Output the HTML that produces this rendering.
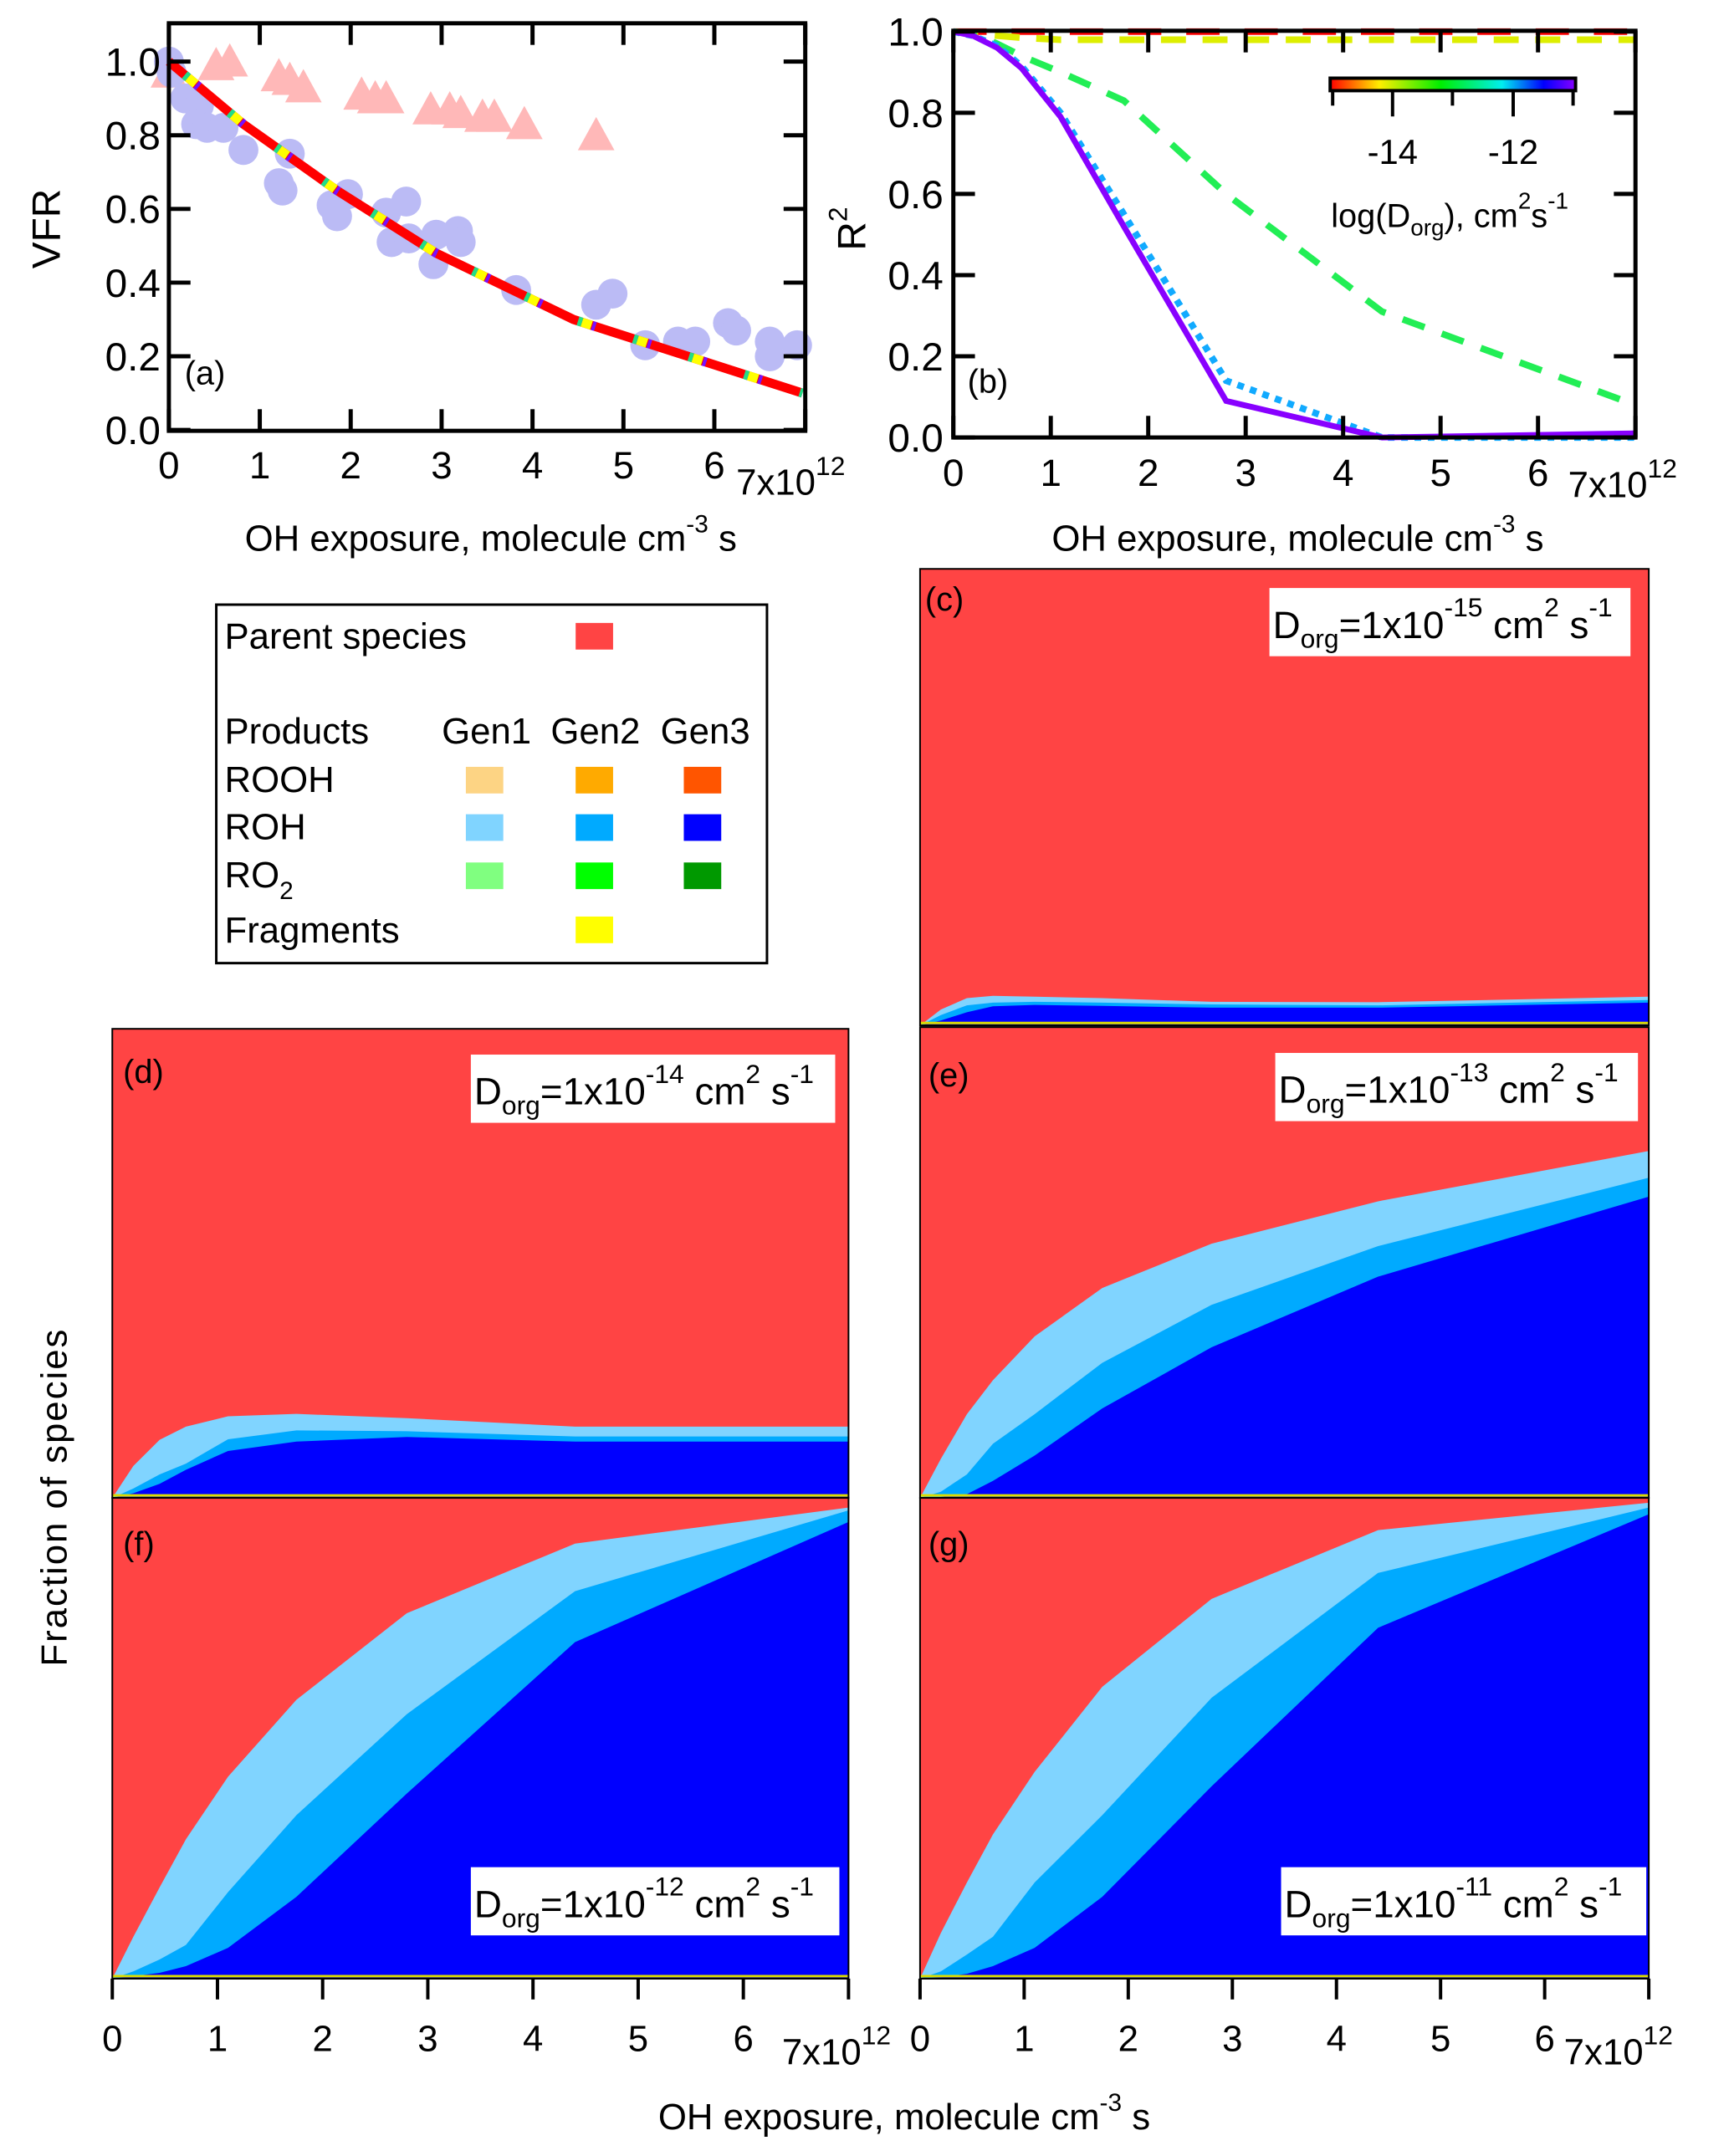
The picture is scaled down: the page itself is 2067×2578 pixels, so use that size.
<!DOCTYPE html>
<html><head><meta charset="utf-8"><style>
html,body{margin:0;padding:0;background:#fff;}
svg{display:block;font-family:"Liberation Sans",sans-serif;}
</style></head><body>
<svg id="fig" width="2067" height="2578" viewBox="0 0 2067 2578" xmlns="http://www.w3.org/2000/svg">
<g id="layer" transform="scale(0.9945)"></g>
</svg>
<script>
// ---------- Panel (a) data ----------
const aCircX=[0,0.03,0.18,0.33,0.3,0.42,0.6,0.82,1.33,1.21,1.25,1.79,1.97,1.85,2.39,2.61,2.45,2.64,2.91,2.94,3.18,3.21,3.82,4.7,4.88,5.24,5.6,5.79,6.15,6.24,6.61,6.61,6.91];
const aCircY=[1.0,0.97,0.9,0.88,0.83,0.82,0.82,0.76,0.75,0.67,0.65,0.61,0.64,0.58,0.59,0.62,0.51,0.52,0.45,0.53,0.54,0.51,0.38,0.34,0.37,0.23,0.24,0.24,0.29,0.27,0.24,0.2,0.23];
const aTriX=[0,0.52,0.67,1.21,1.33,1.48,2.12,2.27,2.39,2.88,3.09,3.21,3.45,3.58,3.91,4.7];
const aTriY=[0.97,0.99,1.0,0.96,0.95,0.93,0.91,0.9,0.9,0.87,0.87,0.86,0.85,0.85,0.83,0.8];
const aModelX=[0,0.82,1.85,2.94,4.45,6.97];
const aModelY=[1.0,0.83,0.65,0.48,0.3,0.1];
// ---------- Panel (b) data ----------
const bX=[0,0.2,0.45,0.7,1.1,1.75,2.8,4.4,7];
const bRed=[1,1,1,1,1,1,1,1,1];
const bYellow=[1,0.995,0.99,0.985,0.98,0.98,0.98,0.98,0.98];
const bGreen=[1,0.995,0.97,0.94,0.9,0.83,0.6,0.31,0.08];
const bBlue=[1,0.99,0.965,0.915,0.80,0.55,0.14,0.0,0.0];
const bPurple=[1,0.99,0.96,0.91,0.79,0.52,0.09,0.0,0.01];
// ---------- Stacked panels (c-g) data ----------
const sX=[0,0.2,0.45,0.7,1.1,1.75,2.8,4.4,7];
const cGen3=[0,0.011,0.029,0.042,0.045,0.043,0.039,0.039,0.05];
const cGen2=[0,0.012,0.015,0.008,0.007,0.007,0.007,0.005,0.006];
const cGen1=[0,0.012,0.016,0.015,0.011,0.01,0.006,0.007,0.007];
const dGen3=[0,0.01,0.03,0.06,0.1,0.12,0.13,0.12,0.12];
const dGen2=[0,0.01,0.02,0.013,0.025,0.024,0.012,0.011,0.011];
const dGen1=[0,0.048,0.074,0.079,0.049,0.035,0.028,0.021,0.021];
const eGen3=[0,0.002,0.008,0.036,0.09,0.19,0.32,0.47,0.64];
const eGen2=[0,0.011,0.042,0.079,0.088,0.097,0.09,0.065,0.04];
const eGen1=[0,0.07,0.128,0.135,0.165,0.159,0.13,0.095,0.057];
const fGen3=[0,0.005,0.012,0.026,0.064,0.17,0.385,0.70,0.95];
const fGen2=[0,0.01,0.028,0.044,0.116,0.17,0.165,0.106,0.024];
const fGen1=[0,0.072,0.15,0.22,0.24,0.24,0.21,0.099,0.006];
const gGen3=[0,0.003,0.01,0.026,0.064,0.17,0.40,0.73,0.966];
const gGen2=[0,0.012,0.04,0.061,0.136,0.17,0.184,0.114,0.014];
const gGen1=[0,0.08,0.15,0.213,0.23,0.267,0.206,0.089,0.01];
const xTicks=[0,1,2,3,4,5,6];
const yTicksA=[0,0.2,0.4,0.6,0.8,1.0];
const yTickLabels=["0.0","0.2","0.4","0.6","0.8","1.0"];

const NS="http://www.w3.org/2000/svg";
const root=document.getElementById('layer');
function mk(tag,attrs,parent){const e=document.createElementNS(NS,tag);for(const k in attrs)e.setAttribute(k,attrs[k]);(parent||root).appendChild(e);return e;}
function txt(x,y,s,size,anchor,parent){const t=mk('text',{x:x,y:y,'font-size':size,'text-anchor':anchor||'start',fill:'#000'},parent);t.textContent=s;return t;}
function scale(d0,d1,p0,p1){return v=>p0+(v-d0)/(d1-d0)*(p1-p0);}
function pathOf(xs,ys,sx,sy){return xs.map((v,i)=>(i?'L':'M')+sx(v).toFixed(1)+','+sy(ys[i]).toFixed(1)).join(' ');}

function axisTitle(cx,y,parent){
  const t=mk('text',{x:cx,y:y,'font-size':44,'text-anchor':'middle'},parent);
  
  
  t.innerHTML='OH exposure, molecule cm<tspan dy="-22" font-size="30">-3</tspan><tspan dy="22"> s</tspan>';
}
function expLabel(x,y,parent){
  const t=mk('text',{x:x,y:y,'font-size':44},parent);
  
  
  t.innerHTML='7x10<tspan dy="-24" font-size="32">12</tspan>';
}

// ===== Panel (a) =====
(function(){
  const g=mk('g',{});
  
  
  const L=203,R=968,T=28,B=518;
  const sx=scale(0,7,L,R), sy=scale(0,1,517,74);
  aTriX.forEach((v,i)=>{const cx=sx(v),cy=sy(aTriY[i]);
    const p=mk('polygon',{points:`${cx-22},${cy+18} ${cx},${cy-22} ${cx+22},${cy+18}`,fill:'#FFB8B8'},g);
    
    });
  aCircX.forEach((v,i)=>{const c=mk('circle',{cx:sx(v),cy:sy(aCircY[i]),r:18,fill:'#BBBBF5'},g);
    
    });
  const d=pathOf(aModelX,aModelY,sx,sy);
  const m1=mk('path',{d:d,fill:'none',stroke:'#FF0000','stroke-width':11},g);
  
  
  mk('path',{d:d,fill:'none',stroke:'#FFFF00','stroke-width':11,'stroke-dasharray':'12 58','stroke-dashoffset':'-30'},g);
  mk('path',{d:d,fill:'none',stroke:'#22DD88','stroke-width':11,'stroke-dasharray':'5 65','stroke-dashoffset':'-25'},g);
  mk('path',{d:d,fill:'none',stroke:'#7711FF','stroke-width':11,'stroke-dasharray':'4 66','stroke-dashoffset':'-43'},g);
  const fr=mk('rect',{x:L,y:T,width:R-L,height:B-T,fill:'none',stroke:'#000','stroke-width':5},g);
  
  
  xTicks.concat([7]).forEach(v=>{const x=sx(v);mk('line',{x1:x,x2:x,y1:B,y2:B-26,stroke:'#000','stroke-width':5},g);mk('line',{x1:x,x2:x,y1:T,y2:T+26,stroke:'#000','stroke-width':5},g);});
  xTicks.forEach(v=>{const t=txt(sx(v),575,String(v),46,'middle',g);
    
    });
  yTicksA.forEach((v,i)=>{const y=sy(v);mk('line',{x1:L,x2:L+26,y1:y,y2:y,stroke:'#000','stroke-width':5},g);mk('line',{x1:R,x2:R-26,y1:y,y2:y,stroke:'#000','stroke-width':5},g);
    const t=txt(L-10,y+17,yTickLabels[i],48,'end',g);
    
    });
  expLabel(885,595,g);
  axisTitle(590,662,g);
  const yl=txt(0,0,'VFR',48,'middle',g);
  yl.setAttribute('transform','translate(72,275) rotate(-90)');
  
  
  const pl=txt(222,462,'(a)',40,'start',g);
  
  
})();

// ===== Panel (b) =====
(function(){
  const g=mk('g',{});
  
  
  const L=1146,R=1966,T=37,B=526;
  const sx=scale(0,7,L,R), sy=scale(0,1,B,T+1);
  const series=[[bRed,'#FF0000','40 30'],[bYellow,'#DDEE00','30 20'],[bGreen,'#22EE55','28 22'],[bBlue,'#11AAFF','8 8'],[bPurple,'#8800FF','']];
  const names=['r2-line-1e-15','r2-line-1e-14','r2-line-1e-13','r2-line-1e-12','r2-line-1e-11'];
  series.forEach((s,i)=>{const p=mk('path',{d:pathOf(bX,s[0],sx,sy),fill:'none',stroke:s[1],'stroke-width':i===4?7:8,'stroke-dasharray':s[2]||'none'},g);
    
    });
  const fr=mk('rect',{x:L,y:T,width:R-L,height:B-T,fill:'none',stroke:'#000','stroke-width':5},g);
  
  
  xTicks.concat([7]).forEach(v=>{const x=sx(v);mk('line',{x1:x,x2:x,y1:B,y2:B-26,stroke:'#000','stroke-width':5},g);mk('line',{x1:x,x2:x,y1:T,y2:T+26,stroke:'#000','stroke-width':5},g);});
  xTicks.forEach(v=>{const t=txt(sx(v),584,String(v),46,'middle',g);
    
    });
  yTicksA.forEach((v,i)=>{const y=sy(v);mk('line',{x1:L,x2:L+26,y1:y,y2:y,stroke:'#000','stroke-width':5},g);mk('line',{x1:R,x2:R-26,y1:y,y2:y,stroke:'#000','stroke-width':5},g);
    const t=txt(L-12,y+17,yTickLabels[i],48,'end',g);
    
    });
  expLabel(1885,598,g);
  axisTitle(1560,662,g);
  const yl=mk('text',{'font-size':48,'text-anchor':'middle',transform:'translate(1040,275) rotate(-90)'},g);
  yl.innerHTML='R<tspan dy="-22" font-size="32">2</tspan>';
  
  
  const pl=txt(1163,472,'(b)',40,'start',g);
  
  
  const defs=mk('defs',{},g);
  const lg=mk('linearGradient',{id:'cb',x1:0,x2:1,y1:0,y2:0},defs);
  [['0','#FF0000'],['0.2','#FFEE00'],['0.45','#00EE00'],['0.7','#00EEEE'],['0.87','#0000FF'],['1','#8800FF']].forEach(s=>mk('stop',{offset:s[0],'stop-color':s[1]},lg));
  const cb=mk('rect',{x:1599,y:94,width:295,height:15,fill:'url(#cb)',stroke:'#000','stroke-width':4},g);
  
  
  [1602,1674,1746,1819,1891].forEach((x,i)=>mk('line',{x1:x,x2:x,y1:110,y2:i%2?140:127,stroke:'#000','stroke-width':4},g));
  [['-14',1674],['-12',1819]].forEach(a=>{const t=txt(a[1],197,a[0],42,'middle',g);
    
    });
  const cl=mk('text',{x:1600,y:273,'font-size':40},g);
  cl.innerHTML='log(D<tspan dy="10" font-size="28">org</tspan><tspan dy="-10">), cm</tspan><tspan dy="-22" font-size="28">2</tspan><tspan dy="22">s</tspan><tspan dy="-22" font-size="28">-1</tspan>';
  
  
})();

// ===== Legend =====
(function(){
  const g=mk('g',{});
  
  
  mk('rect',{x:260,y:727,width:662,height:431,fill:'#fff',stroke:'#000','stroke-width':3},g);
  const rows=[['Parent  species',780],['Products',894],['ROOH',952],['ROH',1009],['RO',1067],['Fragments',1133]];
  rows.forEach(r=>{const t=txt(270,r[1],r[0],44,'start',g);
    
    
    if(r[0]==='RO'){const s=mk('tspan',{dy:14,'font-size':30},t);s.textContent='2';}});
  [['Gen1',531],['Gen2',662],['Gen3',794]].forEach(c=>{const t=txt(c[1],894,c[0],44,'start',g);
    
    });
  const sw=(x,y,c)=>{const r=mk('rect',{x:x,y:y,width:45,height:32,fill:c},g);
    
    };
  sw(692,749,'#FF4444');
  const cols=[560,692,822];
  [['#FDD484','#FFAA00','#FF5500',922],['#80D4FF','#00AAFF','#0000FF',979],['#80FF80','#00FF00','#009900',1037]].forEach(r=>{for(let i=0;i<3;i++)sw(cols[i],r[3],r[i]);});
  sw(692,1102,'#FFFF00');
})();

// ===== Stacked panels =====
function stacked(name,L,R,T,B,g3,g2,g1,label,lx,ly,box,boxExp){
  const g=mk('g',{});
  
  
  const sx=scale(0,7,L,R), sy=scale(0,1,B,T);
  const bg=mk('rect',{x:L,y:T,width:R-L,height:B-T,fill:'#FF4444'},g);
  
  
  const c3=g3.slice(), c2=g3.map((v,i)=>v+g2[i]), c1=c2.map((v,i)=>v+g1[i]);
  const area=(top,col,nm)=>{let d='M'+sx(sX[0])+','+B+' '+sX.map((v,i)=>'L'+sx(v).toFixed(1)+','+sy(top[i]).toFixed(1)).join(' ')+' L'+sx(sX[sX.length-1])+','+B+' Z';
    const p=mk('path',{d:d,fill:col},g);
    
    };
  area(c1,'#80D4FF','roh-gen1-area');
  area(c2,'#00AAFF','roh-gen2-area');
  area(c3,'#0000FF','roh-gen3-area');
  mk('line',{x1:L,x2:R,y1:B-3,y2:B-3,stroke:'#DDDD00','stroke-width':3},g);
  mk('line',{x1:L,x2:R,y1:B,y2:B,stroke:'#000','stroke-width':2},g);
  mk('rect',{x:L,y:T,width:R-L,height:B-T,fill:'none',stroke:'#000','stroke-width':2},g);
  const pl=txt(lx,ly,label,40,'start',g);
  
  
  const br=mk('rect',{x:box[0],y:box[1],width:box[2],height:box[3],fill:'#fff'},g);
  
  
  const t=mk('text',{x:box[0]+4,y:box[1]+box[3]-22,'font-size':46},g);
  t.innerHTML='D<tspan dy="12" font-size="32">org</tspan><tspan dy="-12">=1x10</tspan><tspan dy="-26" font-size="32">'+boxExp+'</tspan><tspan dy="26"> cm</tspan><tspan dy="-26" font-size="32">2</tspan><tspan dy="26"> s</tspan><tspan dy="-26" font-size="32">-1</tspan>';
  
  
  return sx;
}
stacked('panel-c',1106,1982,684,1233,cGen3,cGen2,cGen1,'(c)',1112,734,[1526,707,434,82],'-15');
stacked('panel-d',135,1020,1237,1801,dGen3,dGen2,dGen1,'(d)',148,1302,[566,1268,438,82],'-14');
stacked('panel-e',1106,1982,1235,1801,eGen3,eGen2,eGen1,'(e)',1116,1306,[1533,1266,436,82],'-13');
const sxF=stacked('panel-f',135,1020,1801,2379,fGen3,fGen2,fGen1,'(f)',148,1870,[566,2245,443,82],'-12');
const sxG=stacked('panel-g',1106,1982,1801,2379,gGen3,gGen2,gGen1,'(g)',1116,1870,[1540,2245,439,82],'-11');

[sxF,sxG].forEach((sx,k)=>{
  const g=mk('g',{});
  
  
  xTicks.concat([7]).forEach(v=>mk('line',{x1:sx(v),x2:sx(v),y1:2379,y2:2404,stroke:'#000','stroke-width':4},g));
  xTicks.forEach(v=>{const t=txt(sx(v),2466,String(v),44,'middle',g);
    
    });
  expLabel(k?1880:940,2482,g);
});
axisTitle(1087,2560,root);
const fl=txt(0,0,'Fraction of species',44,'middle');
fl.setAttribute('transform','translate(80,1800) rotate(-90)');
fl.setAttribute('letter-spacing','2');


</script>
</body></html>
